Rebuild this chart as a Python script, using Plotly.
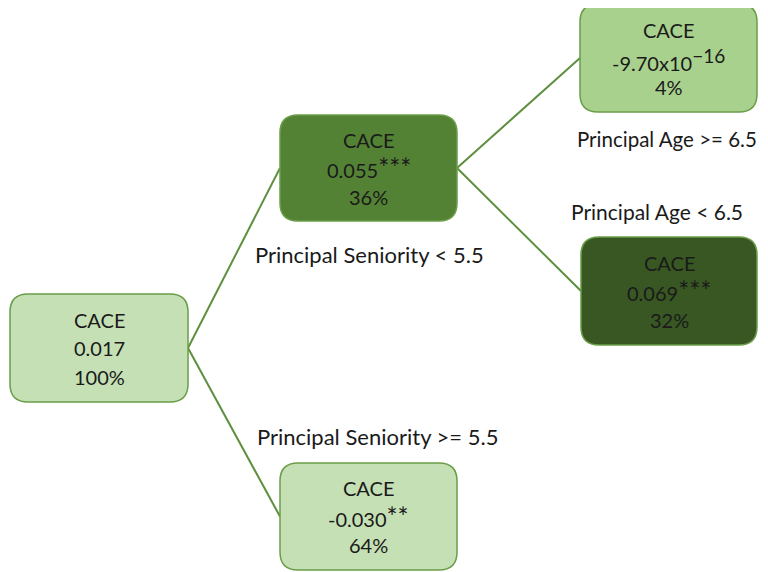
import plotly.graph_objects as go

# ---- data ----
node_names = ["root", "sen_lt", "age_ge", "age_lt", "sen_ge"]
node_titles = ["CACE", "CACE", "CACE", "CACE", "CACE"]
node_values = ["0.017", "0.055", "-9.70x10", "0.069", "-0.030"]
node_exponent = ["", "", "−16", "", ""]
node_stars = ["", "***", "", "***", "**"]
node_share = [100, 36, 4, 32, 64]
edge_parent = ["root", "root", "sen_lt", "sen_lt"]
edge_child = ["sen_lt", "sen_ge", "age_ge", "age_lt"]
edge_labels = ["Principal Seniority < 5.5", "Principal Seniority >= 5.5",
               "Principal Age >= 6.5", "Principal Age < 6.5"]

# ---- layout (pixel space of the 768x572 page) ----
box = {  # x0, y0, x1, y1
    "root": (10, 294, 188, 402),
    "sen_lt": (280, 115, 457, 221),
    "age_ge": (580, 4, 757, 112),
    "age_lt": (581, 237, 757, 345),
    "sen_ge": (280, 463, 457, 570),
}
fills = {"root": "#c5e0b4", "sen_lt": "#548235", "age_ge": "#a9d18e",
         "age_lt": "#385723", "sen_ge": "#c5e0b4"}
label_pos = {"Principal Seniority < 5.5": (369, 254, 22),
             "Principal Seniority >= 5.5": (377, 436, 22),
             "Principal Age >= 6.5": (667, 139, 20.5),
             "Principal Age < 6.5": (657, 211, 21)}

FONT = "Lato, 'Open Sans', sans-serif"
TXT = "#1a1a1a"
border = "#6a9d48"
line_col = "#5e8f3e"


def rrect(x0, y0, x1, y1, r=18):
    return (f"M {x0+r},{y0} L {x1-r},{y0} Q {x1},{y0} {x1},{y0+r} "
            f"L {x1},{y1-r} Q {x1},{y1} {x1-r},{y1} L {x0+r},{y1} "
            f"Q {x0},{y1} {x0},{y1-r} L {x0},{y0+r} Q {x0},{y0} {x0+r},{y0} Z")


fig = go.Figure()

# edges
ex, ey = [], []
for p, c in zip(edge_parent, edge_child):
    px0, py0, px1, py1 = box[p]
    cx0, cy0, cx1, cy1 = box[c]
    ex += [px1, cx0, None]
    ey += [(py0 + py1) / 2, (cy0 + cy1) / 2, None]
fig.add_trace(go.Scatter(x=ex, y=ey, mode="lines",
                         line=dict(color=line_col, width=2),
                         hoverinfo="skip", showlegend=False))

shapes = []
annotations = []
for name, title, val, expo, stars, share in zip(node_names, node_titles, node_values,
                                                node_exponent, node_stars, node_share):
    x0, y0, x1, y1 = box[name]
    shapes.append(dict(type="path", path=rrect(x0, y0, x1, y1),
                       fillcolor=fills[name], line=dict(color=border, width=1.5),
                       layer="above"))
    mid = val
    if expo:
        mid += f"<sup><span style='font-size:19px'>{expo}</span></sup>"
    if stars:
        mid += f"<span style='font-size:26px'>{stars}</span>"
    cx = (x0 + x1) / 2
    cy = (y0 + y1) / 2
    for i, t in enumerate([title, mid, f"{share}%"]):
        annotations.append(dict(x=cx, y=cy + (i - 1) * 28.5 + (1 if i == 1 and expo else 0),
                                text=t, showarrow=False,
                                xanchor="center", yanchor="middle",
                                font=dict(family=FONT, size=20, color=TXT)))

for lab in edge_labels:
    x, y, size = label_pos[lab]
    annotations.append(dict(x=x, y=y, text=lab, showarrow=False,
                            xanchor="center", yanchor="middle",
                            font=dict(family=FONT, size=size, color=TXT)))

# page body has an 8px margin, so the figure covers page pixels 8..768 / 8..572
fig.update_layout(
    width=760, height=564,
    margin=dict(l=0, r=0, t=0, b=0),
    paper_bgcolor="white", plot_bgcolor="white",
    xaxis=dict(range=[8, 768], visible=False, fixedrange=True),
    yaxis=dict(range=[572, 8], visible=False, fixedrange=True),
    shapes=shapes, annotations=annotations, showlegend=False,
)

fig.write_html("out.html")
